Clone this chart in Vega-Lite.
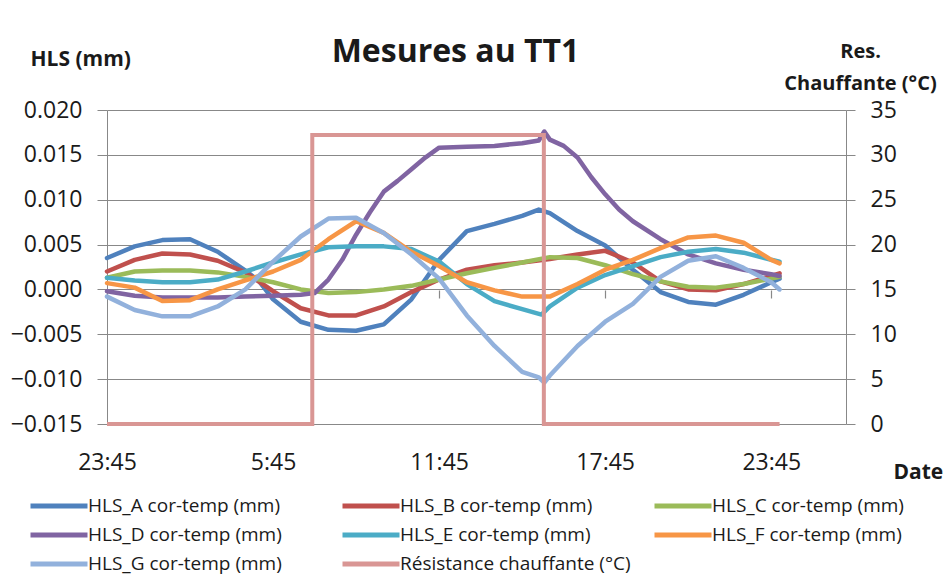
{
  "$schema": "https://vega.github.io/schema/vega-lite/v6.json",
  "autosize": {"type": "none"},
  "width": 739,
  "height": 314,
  "padding": {"left": 107, "top": 110, "right": 97, "bottom": 150},
  "background": "white",
  "config": {
    "font": "Open Sans",
    "view": {"stroke": null},
    "axis": {"labelFont": "Open Sans", "titleFont": "Open Sans", "labelColor": "#1a1a1a", "titleColor": "#1a1a1a"}
  },
  "title": {"text": "Mesures au TT1", "fontSize": 32, "fontWeight": "bold", "font": "Open Sans", "color": "#1a1a1a", "anchor": "middle", "frame": "group", "dx": -21, "dy": 63, "baseline": "alphabetic", "offset": 10},
  "datasets": {
    "hls": [
      {"t": "2020-01-01T23:45", "s": "HLS_A cor-temp (mm)", "v": 0.0035},
      {"t": "2020-01-02T00:45", "s": "HLS_A cor-temp (mm)", "v": 0.0048},
      {"t": "2020-01-02T01:45", "s": "HLS_A cor-temp (mm)", "v": 0.0055},
      {"t": "2020-01-02T02:45", "s": "HLS_A cor-temp (mm)", "v": 0.0056},
      {"t": "2020-01-02T03:45", "s": "HLS_A cor-temp (mm)", "v": 0.0042},
      {"t": "2020-01-02T04:45", "s": "HLS_A cor-temp (mm)", "v": 0.0021},
      {"t": "2020-01-02T05:15", "s": "HLS_A cor-temp (mm)", "v": 0.0009},
      {"t": "2020-01-02T05:45", "s": "HLS_A cor-temp (mm)", "v": -0.0011},
      {"t": "2020-01-02T06:45", "s": "HLS_A cor-temp (mm)", "v": -0.0036},
      {"t": "2020-01-02T07:45", "s": "HLS_A cor-temp (mm)", "v": -0.0045},
      {"t": "2020-01-02T08:45", "s": "HLS_A cor-temp (mm)", "v": -0.0046},
      {"t": "2020-01-02T09:45", "s": "HLS_A cor-temp (mm)", "v": -0.0039},
      {"t": "2020-01-02T10:45", "s": "HLS_A cor-temp (mm)", "v": -0.0011},
      {"t": "2020-01-02T11:45", "s": "HLS_A cor-temp (mm)", "v": 0.0033},
      {"t": "2020-01-02T12:45", "s": "HLS_A cor-temp (mm)", "v": 0.0065},
      {"t": "2020-01-02T13:45", "s": "HLS_A cor-temp (mm)", "v": 0.0073},
      {"t": "2020-01-02T14:45", "s": "HLS_A cor-temp (mm)", "v": 0.0082},
      {"t": "2020-01-02T15:21", "s": "HLS_A cor-temp (mm)", "v": 0.0089},
      {"t": "2020-01-02T15:45", "s": "HLS_A cor-temp (mm)", "v": 0.0085},
      {"t": "2020-01-02T16:45", "s": "HLS_A cor-temp (mm)", "v": 0.0065},
      {"t": "2020-01-02T17:45", "s": "HLS_A cor-temp (mm)", "v": 0.0049},
      {"t": "2020-01-02T18:45", "s": "HLS_A cor-temp (mm)", "v": 0.0022},
      {"t": "2020-01-02T19:45", "s": "HLS_A cor-temp (mm)", "v": -0.0003},
      {"t": "2020-01-02T20:45", "s": "HLS_A cor-temp (mm)", "v": -0.0014},
      {"t": "2020-01-02T21:45", "s": "HLS_A cor-temp (mm)", "v": -0.0017},
      {"t": "2020-01-02T22:45", "s": "HLS_A cor-temp (mm)", "v": -0.0006},
      {"t": "2020-01-02T23:45", "s": "HLS_A cor-temp (mm)", "v": 0.0008},
      {"t": "2020-01-03T00:03", "s": "HLS_A cor-temp (mm)", "v": 0.0012},

      {"t": "2020-01-01T23:45", "s": "HLS_B cor-temp (mm)", "v": 0.0020},
      {"t": "2020-01-02T00:45", "s": "HLS_B cor-temp (mm)", "v": 0.0033},
      {"t": "2020-01-02T01:45", "s": "HLS_B cor-temp (mm)", "v": 0.0040},
      {"t": "2020-01-02T02:45", "s": "HLS_B cor-temp (mm)", "v": 0.0039},
      {"t": "2020-01-02T03:45", "s": "HLS_B cor-temp (mm)", "v": 0.0032},
      {"t": "2020-01-02T04:45", "s": "HLS_B cor-temp (mm)", "v": 0.0019},
      {"t": "2020-01-02T05:45", "s": "HLS_B cor-temp (mm)", "v": -0.0002},
      {"t": "2020-01-02T06:45", "s": "HLS_B cor-temp (mm)", "v": -0.0021},
      {"t": "2020-01-02T07:45", "s": "HLS_B cor-temp (mm)", "v": -0.0029},
      {"t": "2020-01-02T08:45", "s": "HLS_B cor-temp (mm)", "v": -0.0029},
      {"t": "2020-01-02T09:45", "s": "HLS_B cor-temp (mm)", "v": -0.0019},
      {"t": "2020-01-02T10:45", "s": "HLS_B cor-temp (mm)", "v": -0.0003},
      {"t": "2020-01-02T11:45", "s": "HLS_B cor-temp (mm)", "v": 0.0011},
      {"t": "2020-01-02T12:45", "s": "HLS_B cor-temp (mm)", "v": 0.0022},
      {"t": "2020-01-02T13:45", "s": "HLS_B cor-temp (mm)", "v": 0.0027},
      {"t": "2020-01-02T14:45", "s": "HLS_B cor-temp (mm)", "v": 0.0030},
      {"t": "2020-01-02T15:45", "s": "HLS_B cor-temp (mm)", "v": 0.0034},
      {"t": "2020-01-02T16:45", "s": "HLS_B cor-temp (mm)", "v": 0.0039},
      {"t": "2020-01-02T17:45", "s": "HLS_B cor-temp (mm)", "v": 0.0043},
      {"t": "2020-01-02T18:45", "s": "HLS_B cor-temp (mm)", "v": 0.0030},
      {"t": "2020-01-02T19:45", "s": "HLS_B cor-temp (mm)", "v": 0.0009},
      {"t": "2020-01-02T20:45", "s": "HLS_B cor-temp (mm)", "v": 0.0000},
      {"t": "2020-01-02T21:45", "s": "HLS_B cor-temp (mm)", "v": -0.0001},
      {"t": "2020-01-02T22:45", "s": "HLS_B cor-temp (mm)", "v": 0.0006},
      {"t": "2020-01-02T23:45", "s": "HLS_B cor-temp (mm)", "v": 0.0015},
      {"t": "2020-01-03T00:03", "s": "HLS_B cor-temp (mm)", "v": 0.0018},

      {"t": "2020-01-01T23:45", "s": "HLS_C cor-temp (mm)", "v": 0.0013},
      {"t": "2020-01-02T00:45", "s": "HLS_C cor-temp (mm)", "v": 0.0020},
      {"t": "2020-01-02T01:45", "s": "HLS_C cor-temp (mm)", "v": 0.0021},
      {"t": "2020-01-02T02:45", "s": "HLS_C cor-temp (mm)", "v": 0.0021},
      {"t": "2020-01-02T03:45", "s": "HLS_C cor-temp (mm)", "v": 0.0019},
      {"t": "2020-01-02T04:45", "s": "HLS_C cor-temp (mm)", "v": 0.0014},
      {"t": "2020-01-02T05:45", "s": "HLS_C cor-temp (mm)", "v": 0.0008},
      {"t": "2020-01-02T06:45", "s": "HLS_C cor-temp (mm)", "v": 0.0000},
      {"t": "2020-01-02T07:45", "s": "HLS_C cor-temp (mm)", "v": -0.0004},
      {"t": "2020-01-02T08:45", "s": "HLS_C cor-temp (mm)", "v": -0.0003},
      {"t": "2020-01-02T09:45", "s": "HLS_C cor-temp (mm)", "v": 0.0000},
      {"t": "2020-01-02T10:45", "s": "HLS_C cor-temp (mm)", "v": 0.0004},
      {"t": "2020-01-02T11:45", "s": "HLS_C cor-temp (mm)", "v": 0.0011},
      {"t": "2020-01-02T12:45", "s": "HLS_C cor-temp (mm)", "v": 0.0018},
      {"t": "2020-01-02T13:45", "s": "HLS_C cor-temp (mm)", "v": 0.0024},
      {"t": "2020-01-02T14:45", "s": "HLS_C cor-temp (mm)", "v": 0.0030},
      {"t": "2020-01-02T15:45", "s": "HLS_C cor-temp (mm)", "v": 0.0036},
      {"t": "2020-01-02T16:45", "s": "HLS_C cor-temp (mm)", "v": 0.0035},
      {"t": "2020-01-02T17:45", "s": "HLS_C cor-temp (mm)", "v": 0.0027},
      {"t": "2020-01-02T18:45", "s": "HLS_C cor-temp (mm)", "v": 0.0017},
      {"t": "2020-01-02T19:45", "s": "HLS_C cor-temp (mm)", "v": 0.0009},
      {"t": "2020-01-02T20:45", "s": "HLS_C cor-temp (mm)", "v": 0.0003},
      {"t": "2020-01-02T21:45", "s": "HLS_C cor-temp (mm)", "v": 0.0002},
      {"t": "2020-01-02T22:45", "s": "HLS_C cor-temp (mm)", "v": 0.0006},
      {"t": "2020-01-02T23:45", "s": "HLS_C cor-temp (mm)", "v": 0.0012},
      {"t": "2020-01-03T00:03", "s": "HLS_C cor-temp (mm)", "v": 0.0014},

      {"t": "2020-01-01T23:45", "s": "HLS_D cor-temp (mm)", "v": -0.0002},
      {"t": "2020-01-02T00:45", "s": "HLS_D cor-temp (mm)", "v": -0.0007},
      {"t": "2020-01-02T01:45", "s": "HLS_D cor-temp (mm)", "v": -0.0009},
      {"t": "2020-01-02T02:45", "s": "HLS_D cor-temp (mm)", "v": -0.0009},
      {"t": "2020-01-02T03:45", "s": "HLS_D cor-temp (mm)", "v": -0.0009},
      {"t": "2020-01-02T04:45", "s": "HLS_D cor-temp (mm)", "v": -0.0008},
      {"t": "2020-01-02T05:45", "s": "HLS_D cor-temp (mm)", "v": -0.0007},
      {"t": "2020-01-02T06:45", "s": "HLS_D cor-temp (mm)", "v": -0.0006},
      {"t": "2020-01-02T07:15", "s": "HLS_D cor-temp (mm)", "v": -0.0004},
      {"t": "2020-01-02T07:45", "s": "HLS_D cor-temp (mm)", "v": 0.0011},
      {"t": "2020-01-02T08:15", "s": "HLS_D cor-temp (mm)", "v": 0.0033},
      {"t": "2020-01-02T08:45", "s": "HLS_D cor-temp (mm)", "v": 0.0061},
      {"t": "2020-01-02T09:15", "s": "HLS_D cor-temp (mm)", "v": 0.0086},
      {"t": "2020-01-02T09:45", "s": "HLS_D cor-temp (mm)", "v": 0.0109},
      {"t": "2020-01-02T10:15", "s": "HLS_D cor-temp (mm)", "v": 0.0121},
      {"t": "2020-01-02T10:45", "s": "HLS_D cor-temp (mm)", "v": 0.0134},
      {"t": "2020-01-02T11:15", "s": "HLS_D cor-temp (mm)", "v": 0.0147},
      {"t": "2020-01-02T11:45", "s": "HLS_D cor-temp (mm)", "v": 0.0158},
      {"t": "2020-01-02T12:45", "s": "HLS_D cor-temp (mm)", "v": 0.0159},
      {"t": "2020-01-02T13:45", "s": "HLS_D cor-temp (mm)", "v": 0.0160},
      {"t": "2020-01-02T14:45", "s": "HLS_D cor-temp (mm)", "v": 0.0163},
      {"t": "2020-01-02T15:21", "s": "HLS_D cor-temp (mm)", "v": 0.0166},
      {"t": "2020-01-02T15:33", "s": "HLS_D cor-temp (mm)", "v": 0.0176},
      {"t": "2020-01-02T15:45", "s": "HLS_D cor-temp (mm)", "v": 0.0167},
      {"t": "2020-01-02T16:15", "s": "HLS_D cor-temp (mm)", "v": 0.0160},
      {"t": "2020-01-02T16:45", "s": "HLS_D cor-temp (mm)", "v": 0.0147},
      {"t": "2020-01-02T17:15", "s": "HLS_D cor-temp (mm)", "v": 0.0125},
      {"t": "2020-01-02T17:45", "s": "HLS_D cor-temp (mm)", "v": 0.0106},
      {"t": "2020-01-02T18:15", "s": "HLS_D cor-temp (mm)", "v": 0.0089},
      {"t": "2020-01-02T18:45", "s": "HLS_D cor-temp (mm)", "v": 0.0076},
      {"t": "2020-01-02T19:45", "s": "HLS_D cor-temp (mm)", "v": 0.0056},
      {"t": "2020-01-02T20:45", "s": "HLS_D cor-temp (mm)", "v": 0.0039},
      {"t": "2020-01-02T21:45", "s": "HLS_D cor-temp (mm)", "v": 0.0029},
      {"t": "2020-01-02T22:45", "s": "HLS_D cor-temp (mm)", "v": 0.0022},
      {"t": "2020-01-02T23:45", "s": "HLS_D cor-temp (mm)", "v": 0.0017},
      {"t": "2020-01-03T00:03", "s": "HLS_D cor-temp (mm)", "v": 0.0015},

      {"t": "2020-01-01T23:45", "s": "HLS_E cor-temp (mm)", "v": 0.0013},
      {"t": "2020-01-02T00:45", "s": "HLS_E cor-temp (mm)", "v": 0.0010},
      {"t": "2020-01-02T01:45", "s": "HLS_E cor-temp (mm)", "v": 0.0008},
      {"t": "2020-01-02T02:45", "s": "HLS_E cor-temp (mm)", "v": 0.0008},
      {"t": "2020-01-02T03:45", "s": "HLS_E cor-temp (mm)", "v": 0.0011},
      {"t": "2020-01-02T04:45", "s": "HLS_E cor-temp (mm)", "v": 0.0020},
      {"t": "2020-01-02T05:45", "s": "HLS_E cor-temp (mm)", "v": 0.0030},
      {"t": "2020-01-02T06:45", "s": "HLS_E cor-temp (mm)", "v": 0.0039},
      {"t": "2020-01-02T07:45", "s": "HLS_E cor-temp (mm)", "v": 0.0047},
      {"t": "2020-01-02T08:45", "s": "HLS_E cor-temp (mm)", "v": 0.0048},
      {"t": "2020-01-02T09:45", "s": "HLS_E cor-temp (mm)", "v": 0.0048},
      {"t": "2020-01-02T10:45", "s": "HLS_E cor-temp (mm)", "v": 0.0045},
      {"t": "2020-01-02T11:45", "s": "HLS_E cor-temp (mm)", "v": 0.0031},
      {"t": "2020-01-02T12:45", "s": "HLS_E cor-temp (mm)", "v": 0.0006},
      {"t": "2020-01-02T13:45", "s": "HLS_E cor-temp (mm)", "v": -0.0013},
      {"t": "2020-01-02T14:45", "s": "HLS_E cor-temp (mm)", "v": -0.0022},
      {"t": "2020-01-02T15:27", "s": "HLS_E cor-temp (mm)", "v": -0.0028},
      {"t": "2020-01-02T15:45", "s": "HLS_E cor-temp (mm)", "v": -0.0019},
      {"t": "2020-01-02T16:45", "s": "HLS_E cor-temp (mm)", "v": 0.0002},
      {"t": "2020-01-02T17:45", "s": "HLS_E cor-temp (mm)", "v": 0.0016},
      {"t": "2020-01-02T18:45", "s": "HLS_E cor-temp (mm)", "v": 0.0026},
      {"t": "2020-01-02T19:45", "s": "HLS_E cor-temp (mm)", "v": 0.0036},
      {"t": "2020-01-02T20:45", "s": "HLS_E cor-temp (mm)", "v": 0.0042},
      {"t": "2020-01-02T21:45", "s": "HLS_E cor-temp (mm)", "v": 0.0045},
      {"t": "2020-01-02T22:45", "s": "HLS_E cor-temp (mm)", "v": 0.0041},
      {"t": "2020-01-02T23:45", "s": "HLS_E cor-temp (mm)", "v": 0.0033},
      {"t": "2020-01-03T00:03", "s": "HLS_E cor-temp (mm)", "v": 0.0031},

      {"t": "2020-01-01T23:45", "s": "HLS_F cor-temp (mm)", "v": 0.0007},
      {"t": "2020-01-02T00:45", "s": "HLS_F cor-temp (mm)", "v": 0.0002},
      {"t": "2020-01-02T01:45", "s": "HLS_F cor-temp (mm)", "v": -0.0013},
      {"t": "2020-01-02T02:45", "s": "HLS_F cor-temp (mm)", "v": -0.0012},
      {"t": "2020-01-02T03:45", "s": "HLS_F cor-temp (mm)", "v": 0.0000},
      {"t": "2020-01-02T04:45", "s": "HLS_F cor-temp (mm)", "v": 0.0010},
      {"t": "2020-01-02T05:45", "s": "HLS_F cor-temp (mm)", "v": 0.0020},
      {"t": "2020-01-02T06:45", "s": "HLS_F cor-temp (mm)", "v": 0.0033},
      {"t": "2020-01-02T07:45", "s": "HLS_F cor-temp (mm)", "v": 0.0056},
      {"t": "2020-01-02T08:45", "s": "HLS_F cor-temp (mm)", "v": 0.0076},
      {"t": "2020-01-02T09:45", "s": "HLS_F cor-temp (mm)", "v": 0.0063},
      {"t": "2020-01-02T10:45", "s": "HLS_F cor-temp (mm)", "v": 0.0042},
      {"t": "2020-01-02T11:45", "s": "HLS_F cor-temp (mm)", "v": 0.0026},
      {"t": "2020-01-02T12:45", "s": "HLS_F cor-temp (mm)", "v": 0.0008},
      {"t": "2020-01-02T13:45", "s": "HLS_F cor-temp (mm)", "v": -0.0001},
      {"t": "2020-01-02T14:45", "s": "HLS_F cor-temp (mm)", "v": -0.0008},
      {"t": "2020-01-02T15:45", "s": "HLS_F cor-temp (mm)", "v": -0.0008},
      {"t": "2020-01-02T16:45", "s": "HLS_F cor-temp (mm)", "v": 0.0006},
      {"t": "2020-01-02T17:45", "s": "HLS_F cor-temp (mm)", "v": 0.0022},
      {"t": "2020-01-02T18:45", "s": "HLS_F cor-temp (mm)", "v": 0.0033},
      {"t": "2020-01-02T19:45", "s": "HLS_F cor-temp (mm)", "v": 0.0046},
      {"t": "2020-01-02T20:45", "s": "HLS_F cor-temp (mm)", "v": 0.0058},
      {"t": "2020-01-02T21:45", "s": "HLS_F cor-temp (mm)", "v": 0.0060},
      {"t": "2020-01-02T22:45", "s": "HLS_F cor-temp (mm)", "v": 0.0052},
      {"t": "2020-01-02T23:45", "s": "HLS_F cor-temp (mm)", "v": 0.0033},
      {"t": "2020-01-03T00:03", "s": "HLS_F cor-temp (mm)", "v": 0.0029},

      {"t": "2020-01-01T23:45", "s": "HLS_G cor-temp (mm)", "v": -0.0008},
      {"t": "2020-01-02T00:45", "s": "HLS_G cor-temp (mm)", "v": -0.0023},
      {"t": "2020-01-02T01:45", "s": "HLS_G cor-temp (mm)", "v": -0.0030},
      {"t": "2020-01-02T02:45", "s": "HLS_G cor-temp (mm)", "v": -0.0030},
      {"t": "2020-01-02T03:45", "s": "HLS_G cor-temp (mm)", "v": -0.0019},
      {"t": "2020-01-02T04:45", "s": "HLS_G cor-temp (mm)", "v": 0.0000},
      {"t": "2020-01-02T05:45", "s": "HLS_G cor-temp (mm)", "v": 0.0031},
      {"t": "2020-01-02T06:45", "s": "HLS_G cor-temp (mm)", "v": 0.0059},
      {"t": "2020-01-02T07:45", "s": "HLS_G cor-temp (mm)", "v": 0.0079},
      {"t": "2020-01-02T08:45", "s": "HLS_G cor-temp (mm)", "v": 0.0080},
      {"t": "2020-01-02T09:45", "s": "HLS_G cor-temp (mm)", "v": 0.0063},
      {"t": "2020-01-02T10:45", "s": "HLS_G cor-temp (mm)", "v": 0.0039},
      {"t": "2020-01-02T11:45", "s": "HLS_G cor-temp (mm)", "v": 0.0012},
      {"t": "2020-01-02T12:45", "s": "HLS_G cor-temp (mm)", "v": -0.0029},
      {"t": "2020-01-02T13:45", "s": "HLS_G cor-temp (mm)", "v": -0.0063},
      {"t": "2020-01-02T14:45", "s": "HLS_G cor-temp (mm)", "v": -0.0092},
      {"t": "2020-01-02T15:21", "s": "HLS_G cor-temp (mm)", "v": -0.0098},
      {"t": "2020-01-02T15:33", "s": "HLS_G cor-temp (mm)", "v": -0.0104},
      {"t": "2020-01-02T15:45", "s": "HLS_G cor-temp (mm)", "v": -0.0096},
      {"t": "2020-01-02T16:45", "s": "HLS_G cor-temp (mm)", "v": -0.0063},
      {"t": "2020-01-02T17:45", "s": "HLS_G cor-temp (mm)", "v": -0.0036},
      {"t": "2020-01-02T18:45", "s": "HLS_G cor-temp (mm)", "v": -0.0016},
      {"t": "2020-01-02T19:45", "s": "HLS_G cor-temp (mm)", "v": 0.0014},
      {"t": "2020-01-02T20:45", "s": "HLS_G cor-temp (mm)", "v": 0.0032},
      {"t": "2020-01-02T21:45", "s": "HLS_G cor-temp (mm)", "v": 0.0037},
      {"t": "2020-01-02T22:45", "s": "HLS_G cor-temp (mm)", "v": 0.0024},
      {"t": "2020-01-02T23:45", "s": "HLS_G cor-temp (mm)", "v": 0.0008},
      {"t": "2020-01-03T00:03", "s": "HLS_G cor-temp (mm)", "v": 0.0000}
    ],
    "res": [
      {"t": "2020-01-01T23:45", "s": "Résistance chauffante (°C)", "v": 0},
      {"t": "2020-01-02T07:10", "s": "Résistance chauffante (°C)", "v": 32.2},
      {"t": "2020-01-02T15:32", "s": "Résistance chauffante (°C)", "v": 0},
      {"t": "2020-01-03T00:03", "s": "Résistance chauffante (°C)", "v": 0}
    ]
  },
  "layer": [
    {
      "data": {"name": "hls"},
      "mark": {"type": "line", "strokeWidth": 4.5, "strokeJoin": "round", "strokeCap": "round"},
      "encoding": {
        "x": {
          "field": "t", "type": "temporal",
          "scale": {"domain": [{"year": 2020, "month": 1, "date": 1, "hours": 23, "minutes": 45}, {"year": 2020, "month": 1, "date": 3, "hours": 2, "minutes": 27}], "nice": false},
          "axis": {
            "orient": "bottom",
            "values": [
              {"year": 2020, "month": 1, "date": 1, "hours": 23, "minutes": 45},
              {"year": 2020, "month": 1, "date": 2, "hours": 5, "minutes": 45},
              {"year": 2020, "month": 1, "date": 2, "hours": 11, "minutes": 45},
              {"year": 2020, "month": 1, "date": 2, "hours": 17, "minutes": 45},
              {"year": 2020, "month": 1, "date": 2, "hours": 23, "minutes": 45}
            ],
            "format": "%-H:%M", "labelFontSize": 23, "ticks": false, "tickSize": 0, "domain": false, "grid": false,
            "labelPadding": 27, "labelFlush": false, "labelOverlap": false,
            "title": "Date", "titleFontSize": 21, "titleFontWeight": "bold", "titleX": 786, "titleY": 54,
            "titleAlign": "left", "titleBaseline": "alphabetic", "titleAngle": 0
          }
        },
        "y": {
          "field": "v", "type": "quantitative",
          "scale": {"domain": [-0.015, 0.02], "nice": false, "zero": false},
          "axis": {
            "orient": "left", "values": [-0.015, -0.01, -0.005, 0, 0.005, 0.01, 0.015, 0.02], "format": ".3f",
            "labelFontSize": 23, "labelPadding": 15, "tickSize": 10, "tickColor": "#888888", "domainColor": "#888888",
            "grid": true, "gridColor": "#888888", "gridWidth": 1.2,
            "title": "HLS (mm)", "titleAngle": 0, "titleX": -77, "titleY": -45, "titleAlign": "left",
            "titleBaseline": "alphabetic", "titleFontSize": 21, "titleFontWeight": "bold"
          }
        },
        "color": {
          "field": "s", "type": "nominal",
          "scale": {
            "domain": ["HLS_A cor-temp (mm)", "HLS_B cor-temp (mm)", "HLS_C cor-temp (mm)", "HLS_D cor-temp (mm)", "HLS_E cor-temp (mm)", "HLS_F cor-temp (mm)", "HLS_G cor-temp (mm)", "Résistance chauffante (°C)"],
            "range": ["#4F81BD", "#C0504D", "#9BBB59", "#8064A2", "#4BACC6", "#F79646", "#92B1DC", "#D99694"]
          },
          "legend": {
            "orient": "none", "legendX": -60, "legendY": 384, "direction": "horizontal", "columns": 3,
            "gridAlign": "all",
            "title": null, "symbolType": "M-3,0H3", "symbolSize": 361, "symbolStrokeWidth": 5,
            "symbolFillColor": "transparent",
            "labelFontSize": 19, "labelFont": "Open Sans", "labelColor": "#1a1a1a", "labelOffset": 17,
            "columnPadding": 13, "rowPadding": 7, "labelLimit": 300
          }
        }
      }
    },
    {
      "data": {"name": "res"},
      "mark": {"type": "line", "interpolate": "step-after", "strokeWidth": 4},
      "encoding": {
        "x": {
          "field": "t", "type": "temporal",
          "axis": {
            "orient": "bottom", "offset": -134,
            "values": [
              {"year": 2020, "month": 1, "date": 1, "hours": 23, "minutes": 45},
              {"year": 2020, "month": 1, "date": 2, "hours": 5, "minutes": 45},
              {"year": 2020, "month": 1, "date": 2, "hours": 11, "minutes": 45},
              {"year": 2020, "month": 1, "date": 2, "hours": 17, "minutes": 45},
              {"year": 2020, "month": 1, "date": 2, "hours": 23, "minutes": 45}
            ],
            "labels": false, "ticks": true, "tickSize": 8, "tickColor": "#888888", "tickWidth": 1.2,
            "domain": false, "grid": false, "title": null
          }
        },
        "y": {
          "field": "v", "type": "quantitative",
          "scale": {"domain": [0, 35], "nice": false},
          "axis": {
            "orient": "right", "values": [0, 5, 10, 15, 20, 25, 30, 35],
            "labelFontSize": 23, "labelPadding": 15, "tickSize": 9, "tickColor": "#888888", "domainColor": "#888888",
            "grid": false,
            "title": ["Res.", "Chauffante (°C)"], "titleAngle": 0, "titleX": 14, "titleY": -53, "titleAlign": "center",
            "titleBaseline": "alphabetic", "titleLineHeight": 32, "titleFontSize": 20, "titleFontWeight": "bold"
          }
        },
        "color": {"field": "s", "type": "nominal"}
      }
    }
  ],
  "resolve": {"scale": {"y": "independent"}, "axis": {"x": "independent"}}
}
